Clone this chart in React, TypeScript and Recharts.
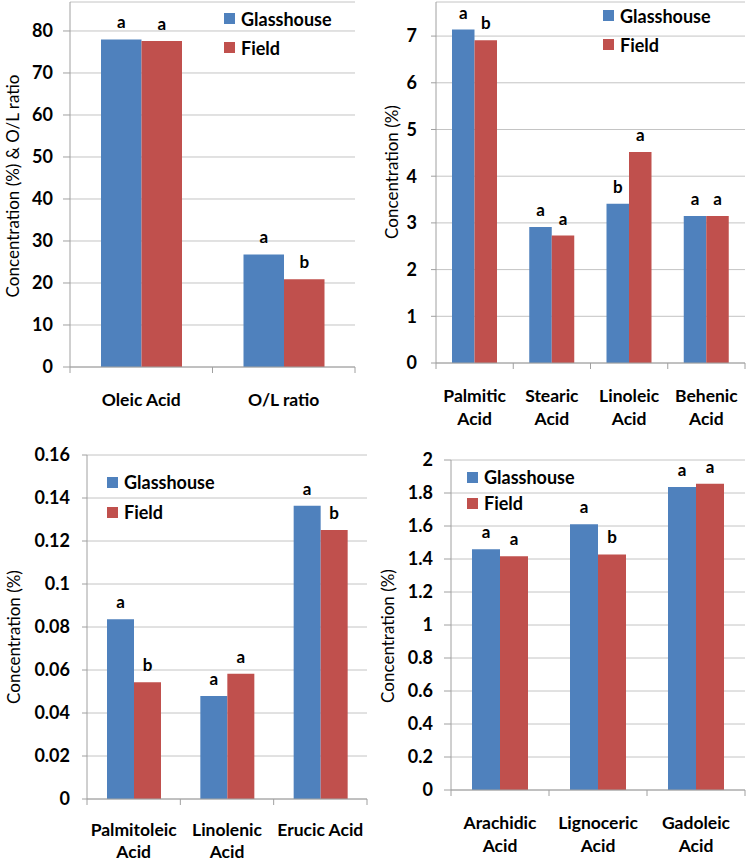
import React from 'react';
import { BarChart, Bar, XAxis, YAxis, CartesianGrid, LabelList } from 'recharts';

// ---------- Data ----------
const seriesNames = ['Glasshouse', 'Field'];
const seriesColors = ['#4f81bd', '#c0504d'];

const p1Categories = ['Oleic Acid', 'O/L ratio'];
const p1Glasshouse = [78.0, 26.8];
const p1Field = [77.6, 20.9];
const p1GlassLetters = ['a', 'a'];
const p1FieldLetters = ['a', 'b'];
const p1Ticks = [0, 10, 20, 30, 40, 50, 60, 70, 80];

const p2Categories = ['Palmitic\nAcid', 'Stearic\nAcid', 'Linoleic\nAcid', 'Behenic\nAcid'];
const p2Glasshouse = [7.14, 2.91, 3.41, 3.15];
const p2Field = [6.91, 2.73, 4.52, 3.15];
const p2GlassLetters = ['a', 'a', 'b', 'a'];
const p2FieldLetters = ['b', 'a', 'a', 'a'];
const p2Ticks = [0, 1, 2, 3, 4, 5, 6, 7];

const p3Categories = ['Palmitoleic\nAcid', 'Linolenic\nAcid', 'Erucic Acid'];
const p3Glasshouse = [0.0836, 0.0479, 0.1364];
const p3Field = [0.0543, 0.0583, 0.1251];
const p3GlassLetters = ['a', 'a', 'a'];
const p3FieldLetters = ['b', 'a', 'b'];
const p3Ticks = [0, 0.02, 0.04, 0.06, 0.08, 0.1, 0.12, 0.14, 0.16];

const p4Categories = ['Arachidic\nAcid', 'Lignoceric\nAcid', 'Gadoleic\nAcid'];
const p4Glasshouse = [1.459, 1.61, 1.836];
const p4Field = [1.416, 1.428, 1.856];
const p4GlassLetters = ['a', 'a', 'a'];
const p4FieldLetters = ['a', 'b', 'a'];
const p4Ticks = [0, 0.2, 0.4, 0.6, 0.8, 1, 1.2, 1.4, 1.6, 1.8, 2];

const AXIS = '#a0a0a0';
const GRID = '#c4c4c4';

function buildRows(cats: string[], g: number[], f: number[], gl: string[], fl: string[]) {
  return cats.map((c, i) => ({ name: c, glasshouse: g[i], field: f[i], gLetter: gl[i], fLetter: fl[i] }));
}

type PanelProps = {
  left: number; top: number; width: number; height: number;
  margin: { top: number; right: number; bottom: number; left: number };
  yWidth: number; xHeight: number;
  domain: [number, number]; ticks: number[];
  tickSize: number; tickMargin: number;
  barSize: number;
  rows: any[];
  yLabel: string; yLabelX: number; yLabelY: number;
  legendX: number; legendY: number; legendGap: number;
  catOffset?: number; catLine?: number;
};

function Panel(p: PanelProps) {
  const plotW = p.width - p.margin.left - p.margin.right - p.yWidth;
  const n = p.rows.length;
  const bw = plotW / n;
  const catOffset = p.catOffset ?? 39;
  const catLine = p.catLine ?? 23;
  const CatTick = (props: any) => {
    const { x, y, payload, index } = props;
    const lines = String(payload.value).split('\n');
    return (
      <g>
        <line x1={x - bw / 2} x2={x - bw / 2} y1={y} y2={y + 6} stroke={AXIS} />
        {index === n - 1 ? <line x1={x + bw / 2} x2={x + bw / 2} y1={y} y2={y + 6} stroke={AXIS} /> : null}
        <text x={x} y={y + catOffset} textAnchor="middle" fontSize={17.5} fontWeight="bold" fill="#000">
          {lines.map((l, i) => (
            <tspan key={i} x={x} dy={i === 0 ? 0 : catLine}>{l}</tspan>
          ))}
        </text>
      </g>
    );
  };
  return (
    <div style={{ position: 'absolute', left: p.left, top: p.top, width: p.width, height: p.height }}>
      <BarChart width={p.width} height={p.height} data={p.rows} margin={p.margin} barGap={0}>
        <CartesianGrid vertical={false} stroke={GRID} />
        <XAxis dataKey="name" height={p.xHeight} axisLine={{ stroke: AXIS }} tickLine={false}
          tickSize={0} tickMargin={0} tick={CatTick} interval={0} />
        <YAxis width={p.yWidth} domain={p.domain} ticks={p.ticks} interval={0}
          axisLine={{ stroke: AXIS }} tickLine={{ stroke: AXIS }} tickSize={p.tickSize} tickMargin={p.tickMargin}
          tick={{ fill: '#000', fontSize: 18, fontWeight: 'bold' }} allowDataOverflow />
        <Bar dataKey="glasshouse" fill={seriesColors[0]} barSize={p.barSize} isAnimationActive={false}>
          <LabelList dataKey="gLetter" position="top" offset={11} fill="#000" fontSize={17} fontWeight="bold" />
        </Bar>
        <Bar dataKey="field" fill={seriesColors[1]} barSize={p.barSize} isAnimationActive={false}>
          <LabelList dataKey="fLetter" position="top" offset={11} fill="#000" fontSize={17} fontWeight="bold" />
        </Bar>
        <text x={p.yLabelX} y={p.yLabelY} transform={`rotate(-90 ${p.yLabelX} ${p.yLabelY})`}
          textAnchor="middle" dominantBaseline="central" fontSize={17} fill="#000">{p.yLabel}</text>
      </BarChart>
      <div style={{ position: 'absolute', left: p.legendX, top: p.legendY, pointerEvents: 'none' }}>
        {seriesNames.map((s, i) => (
          <div key={s} style={{ display: 'flex', alignItems: 'center', height: p.legendGap }}>
            <div style={{ width: 11, height: 11, background: seriesColors[i], marginRight: 6 }} />
            <span style={{ fontSize: 18, fontWeight: 'bold', color: '#000', lineHeight: '18px' }}>{s}</span>
          </div>
        ))}
      </div>
    </div>
  );
}

export default function App() {
  return (
    <div style={{ position: 'absolute', left: 0, top: 0, width: 747, height: 863, background: '#fff', fontFamily: 'Lato, "Open Sans", sans-serif' }}>
      <Panel left={0} top={0} width={374} height={440}
        margin={{ top: 2, right: 19, bottom: 20, left: 0 }} yWidth={70} xHeight={53}
        domain={[0, 86.9]} ticks={p1Ticks} tickSize={7} tickMargin={10} barSize={40.5}
        rows={buildRows(p1Categories, p1Glasshouse, p1Field, p1GlassLetters, p1FieldLetters)}
        yLabel="Concentration (%) & O/L ratio" yLabelX={12} yLabelY={186}
        legendX={224} legendY={4} legendGap={29} />
      <Panel left={374} top={0} width={373} height={440}
        margin={{ top: 2, right: 2, bottom: 20, left: 0 }} yWidth={62} xHeight={57}
        domain={[0, 7.73]} ticks={p2Ticks} tickSize={5} tickMargin={14} barSize={22.5}
        rows={buildRows(p2Categories, p2Glasshouse, p2Field, p2GlassLetters, p2FieldLetters)}
        yLabel="Concentration (%)" yLabelX={17} yLabelY={172}
        legendX={229} legendY={1} legendGap={29} />
      <Panel left={0} top={420} width={374} height={443}
        margin={{ top: 35, right: 7, bottom: 0, left: 0 }} yWidth={87} xHeight={64}
        domain={[0, 0.16]} ticks={p3Ticks} tickSize={5} tickMargin={12} barSize={27}
        rows={buildRows(p3Categories, p3Glasshouse, p3Field, p3GlassLetters, p3FieldLetters)}
        yLabel="Concentration (%)" yLabelX={13} yLabelY={217}
        legendX={107} legendY={47} legendGap={30} catOffset={37} catLine={22} />
      <Panel left={374} top={420} width={373} height={443}
        margin={{ top: 40, right: 2, bottom: 0, left: 0 }} yWidth={77} xHeight={73}
        domain={[0, 2]} ticks={p4Ticks} tickSize={7} tickMargin={11} barSize={28}
        rows={buildRows(p4Categories, p4Glasshouse, p4Field, p4GlassLetters, p4FieldLetters)}
        yLabel="Concentration (%)" yLabelX={13} yLabelY={216}
        legendX={93} legendY={44} legendGap={26} />
    </div>
  );
}
